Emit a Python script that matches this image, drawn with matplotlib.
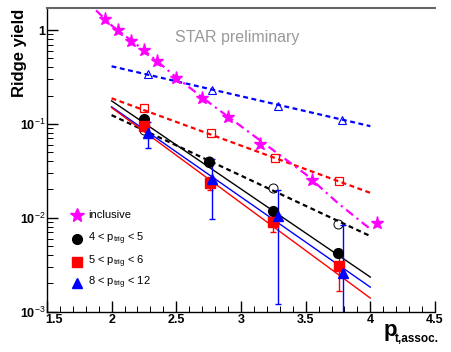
import matplotlib
matplotlib.use("Agg")
import matplotlib.pyplot as plt
from matplotlib.ticker import FixedLocator, LogLocator, NullFormatter
import matplotlib.transforms as mtransforms
import numpy as np

plt.rcParams['font.family'] = ['Liberation Sans', 'DejaVu Sans']
plt.rcParams['mathtext.fontset'] = 'custom'
plt.rcParams['mathtext.rm'] = 'Liberation Sans'

# inclusive (stars) and its fit
incl_x = [1.95, 2.05, 2.15, 2.25, 2.35, 2.5, 2.7, 2.9, 3.15, 3.55, 4.05]
incl_y = [1.30, 1.00, 0.766, 0.610, 0.466, 0.312, 0.191, 0.119, 0.0608, 0.0251, 0.00869]
incl_fit_x = [1.88, 2.0, 2.25, 2.5, 2.75, 3.0, 3.25, 3.5, 3.75, 4.0]
incl_fit_y = [1.62, 1.12, 0.61, 0.314, 0.170, 0.0945, 0.0524, 0.0291, 0.0143, 0.00757]

# solid points, ridge yield per trigger bin
pt4_x = [2.25, 2.75, 3.25, 3.75]
pt4_y = [0.113, 0.0393, 0.0117, 0.00417]
pt4_err = [0.008, 0.003, 0.001, 0.0004]
pt5_x = [2.25, 2.76, 3.25, 3.76]
pt5_y = [0.095, 0.0234, 0.00897, 0.00305]
pt5_err = [0.007, 0.0037, 0.0019, 0.0014]
pt8_x = [2.28, 2.78, 3.29, 3.79]
pt8_y = [0.080, 0.0258, 0.0105, 0.00257]
pt8_err = [0.025, 0.016, 0.0093, 0.0058]

# open points
open4_x = [2.25, 2.75, 3.25, 3.75]
open4_y = [0.0855, 0.0407, 0.0206, 0.00855]
open5_x = [2.25, 2.77, 3.26, 3.76]
open5_y = [0.148, 0.080, 0.043, 0.0245]
open8_x = [2.28, 2.78, 3.29, 3.78]
open8_y = [0.338, 0.228, 0.154, 0.111]

# fit lines, values at x = 2 and x = 4
fit_x = [2.0, 4.0]
fit4_solid = [0.176, 0.00233]
fit5_solid = [0.149, 0.00139]
fit8_solid = [0.152, 0.00182]
fit4_dash = [0.124, 0.00637]
fit5_dash = [0.1875, 0.0184]
fit8_dash = [0.411, 0.0946]

fig = plt.figure(figsize=(4.51, 3.52), dpi=100)
ax = fig.add_axes([0.104, 0.115, 0.8605, 0.861])
ax.set_yscale('log', nonpositive='clip')
ax.set_xlim(1.5, 4.5)
ax.set_ylim(1e-3, 1.7)

dash = (0, (2.2, 1.6))
ax.plot(fit_x, fit8_dash, color='blue', lw=1.6, ls=dash)
ax.plot(fit_x, fit5_dash, color='red', lw=1.6, ls=dash)
ax.plot(fit_x, fit4_dash, color='black', lw=1.6, ls=dash)
ax.plot(incl_fit_x, incl_fit_y, color='magenta', lw=1.6, ls=(0, (4, 2, 1, 2)))
ax.plot(fit_x, fit4_solid, color='black', lw=1.0)
ax.plot(fit_x, fit8_solid, color='blue', lw=1.0)
ax.plot(fit_x, fit5_solid, color='red', lw=1.0)

ax.plot(open8_x, open8_y, ls='none', marker='^', ms=6, mfc='none', mec='blue', mew=0.8)
ax.plot(open5_x, open5_y, ls='none', marker='s', ms=6, mfc='none', mec='red', mew=0.9)
ax.plot(open4_x, open4_y, ls='none', marker='o', ms=6.5, mfc='none', mec='black', mew=0.7)

ax.plot(incl_x, incl_y, ls='none', marker='*', ms=9.5, color='magenta', mec='magenta')
ax.errorbar(pt4_x, pt4_y, yerr=pt4_err, fmt='o', ms=7, color='black', ecolor='black', elinewidth=1, capsize=2)
ax.errorbar(pt5_x, pt5_y, yerr=pt5_err, fmt='s', ms=6.5, color='red', ecolor='red', elinewidth=1, capsize=2)
ax.errorbar(pt8_x, pt8_y, yerr=pt8_err, fmt='^', ms=7, color='blue', ecolor='blue', elinewidth=1, capsize=2)

# axes styling (ROOT-like)
ax.spines['right'].set_visible(False)
ax.spines['top'].set_color('#666666')
ax.spines['top'].set_linewidth(1.5)
ax.spines['left'].set_linewidth(1.0)
ax.spines['bottom'].set_linewidth(1.0)
ax.xaxis.set_major_locator(FixedLocator([1.5, 2, 2.5, 3, 3.5, 4, 4.5]))
ax.xaxis.set_minor_locator(FixedLocator(np.arange(1.5, 4.51, 0.1)))
ax.set_xticklabels(['1.5', '2', '2.5', '3', '3.5', '4', '4.5'])
ax.yaxis.set_major_locator(FixedLocator([1e-3, 1e-2, 1e-1, 1]))
ax.yaxis.set_minor_locator(LogLocator(base=10, subs=np.arange(2, 10)))
ax.yaxis.set_minor_formatter(NullFormatter())
ax.set_yticklabels([r'10$^{-3}$', r'10$^{-2}$', r'10$^{-1}$', '1'])
ax.tick_params(axis='both', which='major', direction='in', length=8, width=1, labelsize=9, top=False, right=False)
ax.tick_params(axis='both', which='minor', direction='in', length=4, width=0.7, top=False, right=False)
ax.tick_params(axis='x', pad=2)
ax.tick_params(axis='y', pad=1)
for lab in ax.get_xticklabels() + ax.get_yticklabels():
    lab.set_fontweight('bold')
# nudge "1.5" right so it does not sit on top of 10^-3
first = ax.get_xticklabels()[0]
first.set_transform(first.get_transform() + mtransforms.ScaledTranslation(7 / 100, 0, fig.dpi_scale_trans))

fig.text(0.027, 0.975, 'Ridge yield', rotation=90, ha='left', va='top', fontsize=12, fontweight='bold')
fig.text(0.851, 0.045, 'p', fontsize=16, fontweight='bold', ha='left', va='baseline')
fig.text(0.876, 0.028, 't,assoc.', fontsize=8.5, fontweight='bold', ha='left', va='baseline')
ax.text(0.331, 0.905, 'STAR preliminary', transform=ax.transAxes, fontsize=11.5, color='#999999', ha='left', va='center')

# legend, drawn by hand
leg_items = [('*', 'magenta', 10, 'inclusive'),
             ('o', 'black', 7, r'4 < p$_{\rm trig}$ < 5'),
             ('s', 'red', 7, r'5 < p$_{\rm trig}$ < 6'),
             ('^', 'blue', 7, r'8 < p$_{\rm trig}$ < 12')]
leg_y = [0.389, 0.321, 0.256, 0.196]
for (mk, col, ms, lab), yy in zip(leg_items, leg_y):
    fig.lines.append(plt.Line2D([0.171], [yy], marker=mk, color=col, ms=ms, ls='none', transform=fig.transFigure))
    fig.text(0.195, yy, lab, fontsize=8, ha='left', va='center')

fig.savefig('out.png', dpi=100)
